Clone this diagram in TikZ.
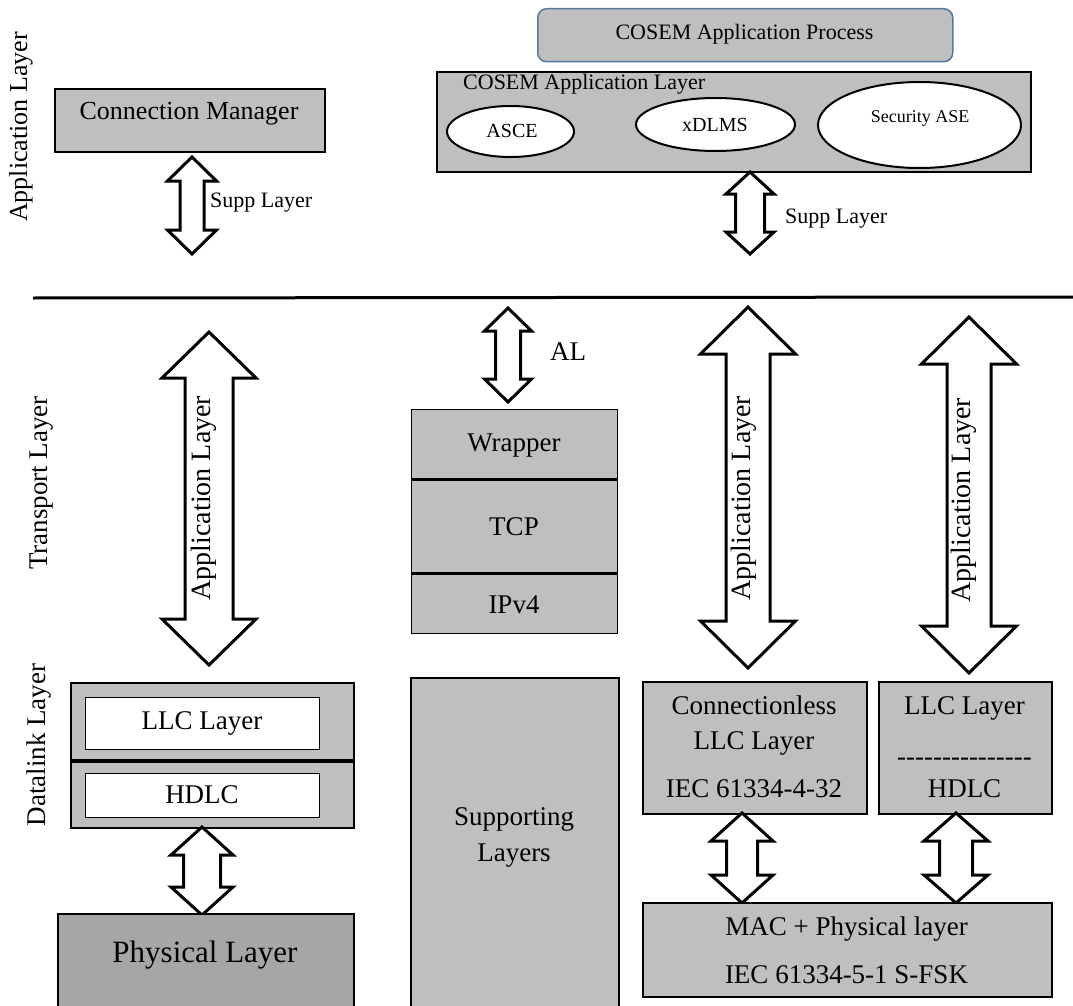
\documentclass[tikz,border=0pt]{standalone}
\usepackage{fontspec}
\setmainfont{Liberation Serif}
\usetikzlibrary{shapes.geometric}
\definecolor{boxgray}{RGB}{191,191,191}
\definecolor{phygray}{RGB}{166,166,166}
\definecolor{procblue}{RGB}{84,120,160}
\newcommand\fsz[1]{\fontsize{#1}{#1}\selectfont}
\newcommand\dblarrow[6]{%
  \draw[blockarrow] (#1,#2) -- ({#1+#4},{#2+#6}) -- ({#1+#5},{#2+#6}) -- ({#1+#5},{#3-#6})
    -- ({#1+#4},{#3-#6}) -- (#1,#3) -- ({#1-#4},{#3-#6}) -- ({#1-#5},{#3-#6})
    -- ({#1-#5},{#2+#6}) -- ({#1-#4},{#2+#6}) -- cycle;}
\tikzset{
  box/.style={draw=black, fill=boxgray, line width=2pt, inner sep=0pt, anchor=north west},
  fillbox/.style={fill=boxgray, inner sep=0pt, anchor=north west},
  wbox/.style={draw=black, fill=white, line width=1pt, inner sep=0pt, anchor=north west},
  ell/.style={ellipse, draw=black, fill=white, line width=2pt, inner sep=0pt},
  txt/.style={inner sep=0pt, font=\fsz{#1}, anchor=base, yshift={-0.33*#1}},
  txt/.default=27,
  rtxt/.style={inner sep=0pt, font=\fsz{#1}, rotate=90},
  rtxt/.default=27,
  blockarrow/.style={draw=black, fill=white, line width=3pt, line join=miter},
}
\begin{document}
\begin{tikzpicture}[x=1pt,y=-1pt]
\clip (0,0) rectangle (1073,1006);
\fill[white] (0,0) rectangle (1073,1006);

% side labels
\node[rtxt=26] (lapp) at (21,127) {Application Layer};
\node[rtxt] (ltrans) at (42,483) {Transport Layer};
\node[rtxt] (ldl) at (39,745) {Datalink Layer};

% connection manager
\node[box, minimum width=270, minimum height=63] (cm) at (54,88) {};
\node[txt=26] (cmt) at (189,111) {Connection Manager};
\dblarrow{192}{157}{254}{24.5}{12}{24}
\node[txt=22, anchor=base west] (supp1) at (210,200) {Supp Layer};

% COSEM
\node[draw=procblue, fill=boxgray, line width=1.5pt, rounded corners=9pt, inner sep=0pt,
      minimum width=415, minimum height=53, anchor=north west] (proc) at (537,8) {};
\node[txt=22] (proct) at (744.5,32) {COSEM Application Process};
\node[box, minimum width=594, minimum height=100] (cal) at (436,71) {};
\node[txt=22, anchor=base west] (calt) at (463,82) {COSEM Application Layer};
\node[ell, minimum width=127, minimum height=51] (asce) at (510.5,131.5) {};
\node[txt=20] (ascet) at (512,131) {ASCE};
\node[ell, minimum width=159, minimum height=53] (xdlms) at (715.5,124.5) {};
\node[txt=20] (xdlmst) at (715,125) {xDLMS};
\node[ell, minimum width=203, minimum height=86] (sec) at (919.5,125) {};
\node[txt=18] (sect) at (920,117) {Security ASE};
\dblarrow{750}{172}{254}{24}{14.5}{22}
\node[txt=22, anchor=base west] (supp2) at (785,216) {Supp Layer};

% separator line
\coordinate (l1) at (33,298);
\coordinate (l2) at (1073,297);
\draw[line width=3pt] (l1) -- (l2);

% left big arrow
\dblarrow{209}{332}{665}{47}{24}{46}
\node[rtxt=28] (al1) at (204,498) {Application Layer};

% AL arrow and stack
\dblarrow{508}{308}{402}{23.5}{12.5}{23}
\node[txt, anchor=base west] (alt) at (550,352) {AL};
\node[fillbox, minimum width=206, minimum height=70] (wrap) at (411,409) {};
\node[fillbox, minimum width=206, minimum height=94] (tcp) at (411,479) {};
\node[fillbox, minimum width=206, minimum height=60] (ipv) at (411,573) {};
\draw[line width=1pt] (wrap.north west) rectangle (ipv.south east);
\draw[line width=3.5pt] (wrap.south west) -- (wrap.south east);
\draw[line width=3.5pt] (tcp.south west) -- (tcp.south east);
\node[txt] (wrapt) at (514,443) {Wrapper};
\node[txt] (tcpt) at (514,527) {TCP};
\node[txt] (ipvt) at (514,605) {IPv4};

% right big arrows
\dblarrow{748}{307}{668}{47.5}{22}{47}
\node[rtxt=28] (al2) at (744,498) {Application Layer};
\dblarrow{969}{317}{673}{47.5}{22}{47}
\node[rtxt=28] (al3) at (964,500) {Application Layer};

% left datalink
\node[box, minimum width=283, minimum height=145] (dl) at (70,682) {};
\coordinate (dla) at (70,761);
\coordinate (dlb) at (353,761);
\draw[line width=3.5pt] (dla) -- (dlb);
\node[wbox, minimum width=234, minimum height=52] (llc) at (85,697) {};
\node[txt] (llct) at (202,721) {LLC Layer};
\node[wbox, minimum width=234, minimum height=44] (hdlc) at (85,773) {};
\node[txt] (hdlct) at (202,795) {HDLC};
\dblarrow{202}{827}{915}{31}{18.5}{28}
\node[box, fill=phygray, minimum width=296, minimum height=110] (phy) at (57,913) {};
\node[txt=31] (phyt) at (205,952) {Physical Layer};

% supporting layers
\node[box, line width=1.5pt, minimum width=208, minimum height=340] (sup) at (410,677) {};
\node[txt] (sup1) at (514,817) {Supporting};
\node[txt] (sup2) at (514,853) {Layers};

% connectionless
\node[box, minimum width=224, minimum height=132] (cl) at (642,681) {};
\node[txt] (cl1) at (754,706) {Connectionless};
\node[txt] (cl2) at (754,741) {LLC Layer};
\node[txt] (cl3) at (754,789) {IEC 61334-4-32};
\node[box, minimum width=173, minimum height=132] (llc2) at (878,681) {};
\node[txt] (llc2a) at (964.5,706) {LLC Layer};
\node[txt] (llc2b) at (964.5,757) {-{}-{}-{}-{}-{}-{}-{}-{}-{}-{}-{}-{}-{}-{}-};
\node[txt] (llc2c) at (964.5,789) {HDLC};
\dblarrow{742}{813}{903}{31}{15.5}{28}
\dblarrow{956}{813}{903}{32}{16.5}{28}
\node[box, minimum width=409, minimum height=94] (mac) at (642,902) {};
\node[txt] (mac1) at (846.5,927) {MAC + Physical layer};
\node[txt] (mac2) at (846.5,975) {IEC 61334-5-1 S-FSK};
\end{tikzpicture}
\end{document}
